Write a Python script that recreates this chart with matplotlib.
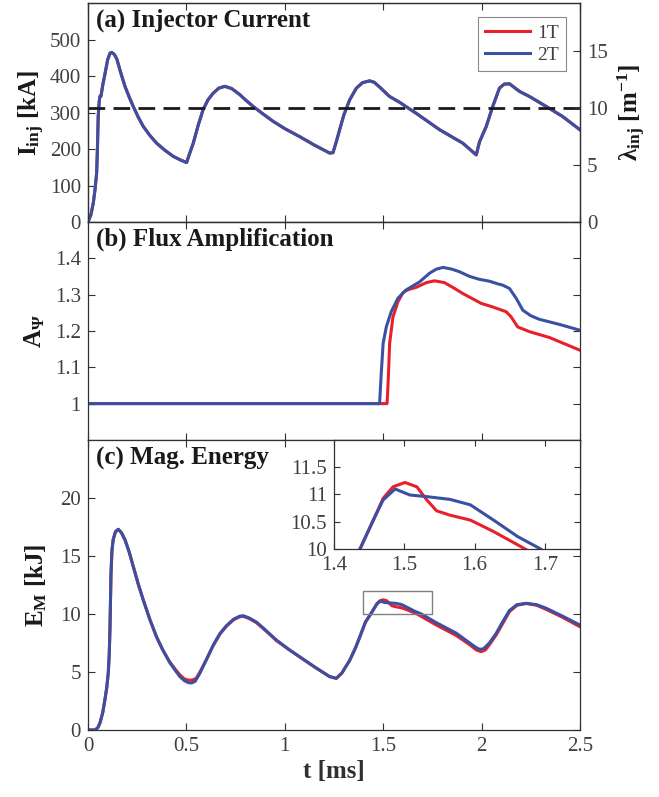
import matplotlib
matplotlib.use("Agg")
import matplotlib.pyplot as plt
from matplotlib.patches import Rectangle

plt.rcParams['font.family'] = ['Liberation Serif', 'DejaVu Serif']
plt.rcParams['mathtext.fontset'] = 'custom'
plt.rcParams['mathtext.rm'] = 'Liberation Serif'
plt.rcParams['mathtext.bf'] = 'Liberation Serif:bold'
plt.rcParams['mathtext.it'] = 'Liberation Serif:italic'

# ---------------- data ----------------
t_I = [0, 0.015, 0.027, 0.036, 0.044, 0.048, 0.052, 0.057, 0.061, 0.066, 0.075, 0.086, 0.1, 0.112,
       0.12, 0.133, 0.146, 0.165, 0.188, 0.21, 0.23, 0.255, 0.281, 0.315, 0.349, 0.39, 0.433, 0.47,
       0.501, 0.515, 0.535, 0.56, 0.585, 0.61, 0.636, 0.665, 0.695, 0.73, 0.772, 0.8, 0.839, 0.89,
       0.941, 1.0, 1.076, 1.15, 1.228, 1.245, 1.262, 1.279, 1.3, 1.33, 1.364, 1.395, 1.431, 1.455,
       1.482, 1.533, 1.584, 1.668, 1.787, 1.905, 1.973, 1.99, 2.024, 2.057, 2.091, 2.115, 2.142,
       2.193, 2.244, 2.328, 2.41, 2.5]
I_inj_1T = [0, 20, 52, 90, 134, 200, 290, 330, 345, 345, 375, 405, 445, 463,
            465, 460, 448, 412, 372, 342, 317, 288, 262, 237, 216, 197, 180, 170,
            163, 185, 216, 265, 308, 335, 353, 367, 372, 366, 349, 335, 317, 296,
            276, 256, 234, 211, 189, 190, 220, 253, 293, 335, 367, 382, 387, 383,
            370, 344, 328, 298, 253, 216, 184, 220, 262, 317, 367, 378, 379,
            358, 344, 317, 290, 253]
I_inj_2T = list(I_inj_1T)
I_ref = 312  # dashed reference line [kA]

t_A_1T = [0, 1.52, 1.527, 1.533, 1.55, 1.575, 1.6, 1.617, 1.635, 1.668, 1.719, 1.761, 1.812,
          1.86, 1.905, 1.998, 2.057, 2.125, 2.15, 2.184, 2.244, 2.345, 2.5]
A_1T = [1.0, 1.0, 1.08, 1.166, 1.239, 1.28, 1.305, 1.311, 1.315, 1.32, 1.333, 1.338, 1.333,
        1.318, 1.303, 1.276, 1.266, 1.253, 1.239, 1.211, 1.198, 1.182, 1.147]
t_A_2T = [0, 1.482, 1.49, 1.5, 1.516, 1.541, 1.575, 1.617, 1.685, 1.736, 1.77, 1.804, 1.85,
          1.888, 1.94, 1.99, 2.04, 2.08, 2.108, 2.142, 2.176, 2.21, 2.25, 2.294, 2.396, 2.5]
A_2T = [1.0, 1.0, 1.08, 1.166, 1.211, 1.253, 1.29, 1.313, 1.335, 1.359, 1.37, 1.375, 1.37,
        1.363, 1.35, 1.342, 1.337, 1.33, 1.326, 1.317, 1.29, 1.257, 1.242, 1.232, 1.218, 1.202]

t_E_2T = [0, 0.036, 0.05, 0.061, 0.075, 0.086, 0.095, 0.103, 0.108, 0.112, 0.117, 0.122, 0.128,
          0.14, 0.154, 0.17, 0.188, 0.21, 0.23, 0.255, 0.281, 0.315, 0.349, 0.38, 0.416, 0.445,
          0.467, 0.49, 0.51, 0.526, 0.545, 0.569, 0.6, 0.636, 0.67, 0.704, 0.74, 0.77, 0.789,
          0.82, 0.856, 0.9, 0.958, 1.02, 1.076, 1.15, 1.228, 1.262, 1.29, 1.33, 1.36, 1.381,
          1.41, 1.437, 1.456, 1.47, 1.487, 1.508, 1.532, 1.565, 1.594, 1.627, 1.661, 1.694,
          1.77, 1.871, 1.94, 1.973, 1.99, 2.01, 2.04, 2.075, 2.11, 2.142, 2.18, 2.227, 2.28,
          2.328, 2.413, 2.5]
E_2T = [0, 0, 0.2, 0.6, 1.5, 2.6, 3.6, 4.9, 6.5, 8.9, 13.5, 15.5, 16.4,
        17.1, 17.3, 17.0, 16.4, 15.3, 14.1, 12.6, 11.2, 9.5, 8.0, 6.9, 5.8, 5.1,
        4.6, 4.25, 4.08, 4.05, 4.2, 4.9, 6.0, 7.3, 8.3, 9.0, 9.55, 9.8, 9.85,
        9.65, 9.3, 8.65, 7.75, 6.95, 6.3, 5.45, 4.6, 4.45, 4.9, 6.0, 7.1, 8.0,
        9.3, 10.0, 10.53, 10.9, 11.1, 10.99, 10.96, 10.91, 10.81, 10.53, 10.23, 10.0,
        9.25, 8.35, 7.5, 7.1, 6.95, 7.0, 7.5, 8.35, 9.4, 10.3, 10.8, 10.92, 10.8,
        10.5, 9.8, 9.05]
t_E_1T = [0, 0.036, 0.05, 0.061, 0.075, 0.086, 0.095, 0.103, 0.108, 0.112, 0.117, 0.122, 0.128,
          0.14, 0.154, 0.17, 0.188, 0.21, 0.23, 0.255, 0.281, 0.315, 0.349, 0.38, 0.416, 0.445,
          0.467, 0.49, 0.51, 0.53, 0.55, 0.569, 0.6, 0.636, 0.67, 0.704, 0.74, 0.77, 0.789,
          0.82, 0.856, 0.9, 0.958, 1.02, 1.076, 1.15, 1.228, 1.262, 1.29, 1.33, 1.36, 1.381,
          1.41, 1.437, 1.456, 1.47, 1.484, 1.501, 1.518, 1.532, 1.546, 1.565, 1.594, 1.627,
          1.672, 1.77, 1.871, 1.94, 1.973, 1.998, 2.02, 2.04, 2.075, 2.11, 2.142, 2.18, 2.227,
          2.28, 2.328, 2.413, 2.5]
E_1T = [0, 0, 0.2, 0.6, 1.5, 2.6, 3.6, 4.9, 6.5, 8.9, 13.5, 15.5, 16.4,
        17.1, 17.3, 17.0, 16.4, 15.3, 14.1, 12.6, 11.2, 9.5, 8.0, 6.9, 5.85, 5.2,
        4.75, 4.4, 4.3, 4.3, 4.45, 5.0, 6.0, 7.25, 8.25, 8.95, 9.5, 9.75, 9.8,
        9.6, 9.25, 8.6, 7.7, 6.95, 6.3, 5.45, 4.6, 4.45, 4.9, 6.0, 7.1, 8.0,
        9.3, 10.0, 10.53, 10.93, 11.14, 11.22, 11.14, 10.9, 10.7, 10.62, 10.53, 10.32,
        10.0, 9.05, 8.15, 7.35, 6.9, 6.75, 6.9, 7.35, 8.2, 9.25, 10.2, 10.75, 10.9,
        10.75, 10.4, 9.7, 8.9]

zoom_t = [1.4, 1.75]
zoom_E = [10, 12]

# ---------------- style ----------------
RED = '#E8202A'
BLUE = '#3A50A2'
SPINE = '#303030'
TICKC = '#404040'
LW = 2.2
TICK_FS = 15
LAB_FS = 18

fig = plt.figure(figsize=(6.59, 7.97), dpi=100)
L, W = 0.1335, 0.7465
ax_a = fig.add_axes([L, 0.7215, W, 0.2745])
ax_b = fig.add_axes([L, 0.448, W, 0.2735])
ax_c = fig.add_axes([L, 0.0841, W, 0.3639])


def style(ax, right=True, top=True):
    for s in ax.spines.values():
        s.set_color(SPINE)
        s.set_linewidth(0.9)
    ax.tick_params(direction='in', length=5, width=0.8, color=SPINE, top=top, right=right,
                   labelsize=TICK_FS, labelcolor=TICKC, pad=5)


for ax in (ax_a, ax_b, ax_c):
    ax.set_xlim(0, 2.5)
    ax.set_xticks([0, 0.5, 1, 1.5, 2, 2.5])

# ---- (a)
ax_a.plot(t_I, I_inj_1T, color=RED, lw=LW, label='1T')
ax_a.plot(t_I, I_inj_2T, color=BLUE, lw=LW, label='2T')
ax_a.axhline(I_ref, color='#1a1a1a', lw=2, dashes=(6, 3))
ax_a.set_ylim(0, 600)
ax_a.set_yticks([0, 100, 200, 300, 400, 500])
style(ax_a, right=False)
ax_a.tick_params(labelbottom=False)
ax_a.set_ylabel(r'I$_{\mathbf{inj}}$ [kA]', fontsize=LAB_FS, fontweight='bold', labelpad=2)
ax_a.text(0.016, 0.975, '(a) Injector Current', transform=ax_a.transAxes, fontsize=LAB_FS,
          fontweight='bold', va='top', ha='left', color='#1a1a1a')
leg = ax_a.legend(loc='upper right', bbox_to_anchor=(0.9715, 0.936), borderaxespad=0,
                  fancybox=False, edgecolor='#888888', fontsize=14, handlelength=2.3,
                  handletextpad=0.4, borderpad=0.35, labelspacing=0.25, framealpha=1)
leg.get_frame().set_linewidth(0.8)
for txt in leg.get_texts():
    txt.set_color(TICKC)

ax_r = ax_a.twinx()
ax_r.set_ylim(0, 600 / 31.2)
ax_r.set_yticks([0, 5, 10, 15])
for s in ax_r.spines.values():
    s.set_color(SPINE)
    s.set_linewidth(0.9)
ax_r.tick_params(direction='in', length=5, width=0.8, color=SPINE, labelsize=TICK_FS,
                 labelcolor=TICKC, pad=5)
ax_r.set_ylabel(r'λ$_{\mathbf{inj}}$ [m$^{\mathbf{-1}}$]', fontsize=LAB_FS, fontweight='bold',
                labelpad=6)

# ---- (b)
ax_b.plot(t_A_1T, A_1T, color=RED, lw=LW)
ax_b.plot(t_A_2T, A_2T, color=BLUE, lw=LW)
ax_b.set_ylim(0.9, 1.5)
ax_b.set_yticks([1, 1.1, 1.2, 1.3, 1.4])
ax_b.set_yticklabels(['1', '1.1', '1.2', '1.3', '1.4'])
style(ax_b)
ax_b.tick_params(labelbottom=False)
ax_b.set_ylabel(r'A$_{\mathbf{Ψ}}$', fontsize=LAB_FS, fontweight='bold', labelpad=6)
ax_b.text(0.016, 0.975, '(b) Flux Amplification', transform=ax_b.transAxes, fontsize=LAB_FS,
          fontweight='bold', va='top', ha='left', color='#1a1a1a')

# ---- (c)
ax_c.plot(t_E_1T, E_1T, color=RED, lw=LW)
ax_c.plot(t_E_2T, E_2T, color=BLUE, lw=LW)
ax_c.set_ylim(0, 25)
ax_c.set_yticks([0, 5, 10, 15, 20])
ax_c.set_xticklabels(['0', '0.5', '1', '1.5', '2', '2.5'])
style(ax_c)
ax_c.set_ylabel(r'E$_{\mathbf{M}}$ [kJ]', fontsize=LAB_FS, fontweight='bold', labelpad=8)
ax_c.set_xlabel('t [ms]', fontsize=LAB_FS, fontweight='bold', labelpad=3, color='#303030')
ax_c.text(0.016, 0.975, '(c) Mag. Energy', transform=ax_c.transAxes, fontsize=LAB_FS,
          fontweight='bold', va='top', ha='left', color='#1a1a1a')
ax_c.add_patch(Rectangle((zoom_t[0], zoom_E[0]), zoom_t[1] - zoom_t[0], zoom_E[1] - zoom_E[0],
                         fill=False, edgecolor='#808080', lw=1.0, zorder=5))

# inset
ax_i = fig.add_axes([0.5068, 0.3112, 0.3733, 0.1368])
ax_i.plot(t_E_1T, E_1T, color=RED, lw=LW)
ax_i.plot(t_E_2T, E_2T, color=BLUE, lw=LW)
ax_i.set_xlim(zoom_t)
ax_i.set_ylim(zoom_E)
ax_i.set_xticks([1.4, 1.5, 1.6, 1.7])
ax_i.set_xticklabels(['1.4', '1.5', '1.6', '1.7'])
ax_i.set_yticks([10, 10.5, 11, 11.5])
ax_i.set_yticklabels(['10', '10.5', '11', '11.5'])
style(ax_i)
ax_i.tick_params(length=4)

for ax in (ax_a, ax_b, ax_c, ax_r):
    ax.yaxis.label.set_color('#1a1a1a')

fig.savefig('out.png', dpi=100)
